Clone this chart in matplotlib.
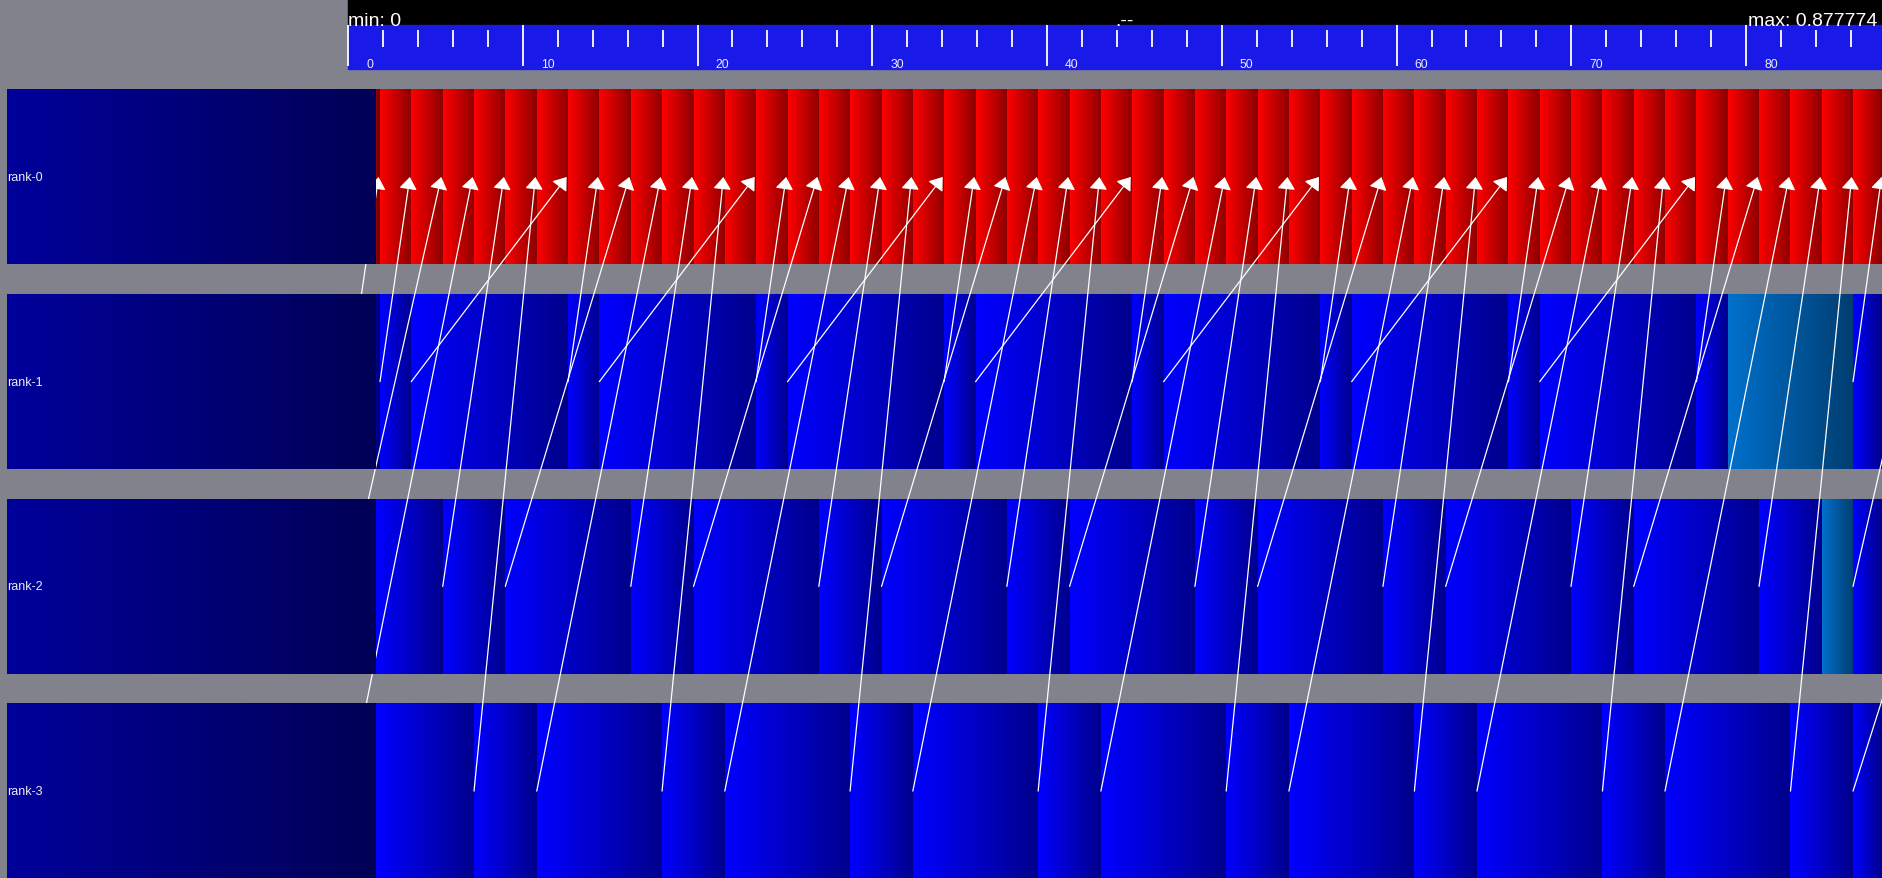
import numpy as np
import matplotlib.pyplot as plt

# trace window in ms (header shows seconds)
t_max = 877.774
fig_w, fig_h = 1882, 879
ruler_left_px = 348

ranks = ['rank-0', 'rank-1', 'rank-2', 'rank-3']

# start time (ms) of every state interval per rank, the last one runs to t_max
rank0_starts = [16.0, 18.3, 36.2, 54.2, 72.1, 90.0, 108.0, 125.9, 143.8, 161.8, 179.7,
                197.7, 215.6, 233.5, 251.5, 269.4, 287.3, 305.3, 323.2, 341.1, 359.1,
                377.0, 394.9, 412.9, 430.8, 448.7, 466.7, 484.6, 502.5, 520.5, 538.4,
                556.4, 574.3, 592.2, 610.2, 628.1, 646.0, 664.0, 681.9, 699.8, 717.8,
                735.7, 753.6, 771.6, 789.5, 807.4, 825.4, 843.3, 861.2]
rank0_states = ['tail_r'] + ['recv'] * 48

rank1_starts = [16.0, 18.3, 36.2, 125.9, 143.8, 233.5, 251.5, 341.1, 359.1, 448.7,
                466.7, 556.4, 574.3, 664.0, 681.9, 771.6, 789.5, 861.2]
rank1_states = ['tail_b', 'run', 'run', 'run', 'run', 'run', 'run', 'run', 'run', 'run',
                'run', 'run', 'run', 'run', 'run', 'run', 'wait', 'run']

rank2_starts = [16.0, 54.2, 90.0, 161.8, 197.7, 269.4, 305.3, 377.0, 412.9, 484.6,
                520.5, 592.2, 628.1, 699.8, 735.7, 807.4, 843.3, 861.2]
rank2_states = ['run', 'run', 'run', 'run', 'run', 'run', 'run', 'run', 'run', 'run',
                'run', 'run', 'run', 'run', 'run', 'run', 'wait', 'run']

rank3_starts = [16.0, 72.1, 108.0, 179.7, 215.6, 287.3, 323.2, 394.9, 430.8, 502.5,
                538.4, 610.2, 646.0, 717.8, 753.6, 825.4, 861.2]
rank3_states = ['run'] * 17

# messages to rank-0: source rank, send time, receive time (ms)
msg_src = [1, 1, 2, 3, 2, 3, 1, 1, 2, 3, 2, 3, 1, 1, 2, 3, 2, 3, 1, 1, 2, 3, 2, 3, 1,
           1, 2, 3, 2, 3, 1, 1, 2, 3, 2, 3, 1, 1, 2, 3, 2, 3, 1, 1, 2, 3, 2, 3, 1, 2, 3]
msg_send = [0.4, 18.3, 0.4, 0.4, 54.2, 72.1, 36.2, 125.9, 90.0, 108.0, 161.8, 179.7,
            143.8, 233.5, 197.7, 215.6, 269.4, 287.3, 251.5, 341.1, 305.3, 323.2, 377.0,
            394.9, 359.1, 448.7, 412.9, 430.8, 484.6, 502.5, 466.7, 556.4, 520.5, 538.4,
            592.2, 610.2, 574.3, 664.0, 628.1, 646.0, 699.8, 717.8, 681.9, 771.6, 735.7,
            753.6, 807.4, 825.4, 861.2, 861.2, 861.2]
msg_recv = [17.5, 35.4, 53.4, 71.3, 89.2, 107.2, 125.1, 143.0, 161.0, 178.9, 196.9,
            214.8, 232.7, 250.7, 268.6, 286.5, 304.5, 322.4, 340.3, 358.3, 376.2, 394.1,
            412.1, 430.0, 447.9, 465.9, 483.8, 501.7, 519.7, 537.6, 555.6, 573.5, 591.4,
            609.4, 627.3, 645.2, 663.2, 681.1, 699.0, 717.0, 734.9, 752.8, 770.8, 788.7,
            806.6, 824.6, 842.5, 860.4, 877.5, 915.0, 973.0]

state_colors = {
    'recv': (1.0, 0.0, 0.0),
    'run': (0.0, 0.0, 1.0),
    'wait': (0.0, 0.44, 0.80),
    'tail_r': (0.6, 0.0, 0.0),
    'tail_b': (0.0, 0.0, 0.6),
    'label': (0.0, 0.0, 0.61),
}

gray = '#82828c'
ruler_blue = '#1a1ae8'
text_col = '#ececf4'

row_top0 = 90.5
row_pitch = 204.7
row_h = 175
px_per_ms = (fig_w - ruler_left_px) / t_max
t_left = -ruler_left_px / px_per_ms
label_box_left = t_left + 7 / px_per_ms


def gradient_block(ax, t0, t1, y0, y1, rgb, z=1):
    # bright on the left, darker on the right
    shade = np.linspace(1.0, 0.55, 128)[:, None]
    img = (shade * np.array(rgb))[None, :, :]
    ax.imshow(img, extent=(t0, t1, y1, y0), aspect='auto',
              interpolation='nearest', zorder=z)


def row_center(r):
    return row_top0 + r * row_pitch + row_h / 2


fig = plt.figure(figsize=(fig_w / 100, fig_h / 100), dpi=100, facecolor=gray)
ax = fig.add_axes([0, 0, 1, 1])
ax.set_facecolor(gray)
ax.axis('off')

# header: black strip and blue time ruler
ax.add_patch(plt.Rectangle((0, 0), t_max, 26, color='black', zorder=2))
ax.add_patch(plt.Rectangle((0, 26), t_max, 44, color=ruler_blue, zorder=2))
major = np.arange(0, t_max, 100)
minor = np.array([t for t in np.arange(0, t_max, 20) if t % 100])
ax.vlines(major, 26, 67, color='white', lw=1.3, zorder=3)
ax.vlines(minor, 31, 48, color='white', lw=1.3, zorder=3)
for t in major:
    ax.text(t + 10.3, 64.5, str(int(t / 10)), color=text_col, fontsize=8.7,
            family='Liberation Sans', ha='left', va='center', zorder=4)
ax.text(0, 25.5, 'min: 0', color='white', fontsize=14, family='Liberation Sans',
        ha='left', va='baseline', zorder=4)
ax.text(t_max / 2, 25.5, '.--', color='white', fontsize=14, family='Liberation Sans',
        ha='left', va='baseline', zorder=4)
ax.text(t_max - 2.5, 25.5, 'max: %g' % (t_max / 1000), color='white', fontsize=14,
        family='Liberation Sans', ha='right', va='baseline', zorder=4)

# state intervals
all_starts = [rank0_starts, rank1_starts, rank2_starts, rank3_starts]
all_states = [rank0_states, rank1_states, rank2_states, rank3_states]
for r, (starts, states) in enumerate(zip(all_starts, all_states)):
    y0 = row_top0 + r * row_pitch
    ends = starts[1:] + [t_max]
    for t0, t1, s in zip(starts, ends, states):
        gradient_block(ax, t0, t1, y0, y0 + row_h, state_colors[s], z=1)

# messages
for src, ts, tr in zip(msg_src, msg_send, msg_recv):
    ax.annotate('', xy=(tr, row_center(0)), xytext=(ts, row_center(src)),
                arrowprops=dict(arrowstyle='-|>,head_length=0.75,head_width=0.55',
                                color='white', lw=0.9, shrinkA=0, shrinkB=0,
                                mutation_scale=10),
                annotation_clip=False, zorder=3)

# rank name boxes drawn over everything on their left part
for r, name in enumerate(ranks):
    y0 = row_top0 + r * row_pitch
    gradient_block(ax, label_box_left, rank0_starts[0], y0, y0 + row_h,
                   state_colors['label'], z=5)
    ax.text(label_box_left, row_center(r), name, color=text_col, fontsize=9,
            family='Liberation Sans', ha='left', va='center', zorder=6)

ax.set_xlim(t_left, t_max)
ax.set_ylim(fig_h, 0)
fig.savefig('out.png', dpi=100, facecolor=gray)
